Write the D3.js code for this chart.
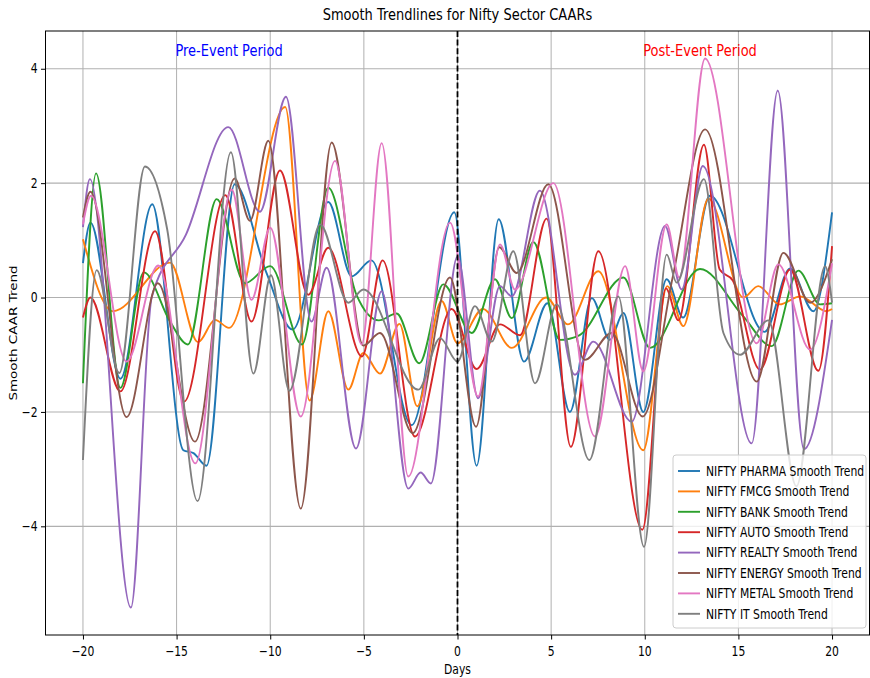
<!DOCTYPE html>
<html>
<head>
<meta charset="utf-8">
<script src="https://cdn.jsdelivr.net/npm/d3@7"></script>
<style>
  body { margin: 0; background: #fff; }
  svg text { font-family: "DejaVu Sans", sans-serif; }
</style>
</head>
<body>
<div id="chart"></div>
<script>
// sector names as shown in the legend
var sectors = ["NIFTY PHARMA", "NIFTY FMCG", "NIFTY BANK", "NIFTY AUTO",
               "NIFTY REALTY", "NIFTY ENERGY", "NIFTY METAL", "NIFTY IT"];
var colors = ["#1f77b4", "#ff7f0e", "#2ca02c", "#d62728",
              "#9467bd", "#8c564b", "#e377c2", "#7f7f7f"];

// [day, smooth CAAR] (turning points of each curve)
var pharma = [[-20,0.6],[-19.6,1.31],[-18,-1.42],[-16.3,1.63],[-14.64,-2.67],[-14.1,-2.72],[-13.4,-2.94],
  [-11.9,1.98],[-10.2,0.43],[-8.8,-0.56],[-6.9,1.67],[-5.65,0.37],[-4.6,0.65],[-2.45,-2.23],[-0.17,1.49],
  [1.02,-2.94],[2.2,1.37],[3.55,-1.12],[4.8,-0.1],[6,-2],[7.17,-0.01],[8.14,-0.74],[8.86,-0.27],[9.92,-2],
  [11.17,0.32],[12.05,-0.35],[13.48,1.78],[16.4,-0.6],[17.76,0.51],[19,-0.24],[20,1.49]];
var fmcg = [[-20,1.02],[-18.4,-0.24],[-15.35,0.61],[-13.85,-0.78],[-12.95,-0.39],[-12.2,-0.53],[-9.2,3.33],
  [-7.9,-1.8],[-6.9,-0.24],[-5.83,-1.61],[-5.03,-0.97],[-4.14,-1.33],[-3.1,-0.46],[-2.15,-1.9],[-0.85,-0.06],
  [0,-0.8],[1.36,-0.2],[2.9,-0.88],[4.73,0],[5.9,-0.47],[7.52,0.46],[9.92,-2.67],[11.2,0.2],[12.06,-0.5],
  [13.4,1.73],[15.26,0],[16.06,0.2],[17.2,-0.12],[18.3,0.02],[19.7,-0.24],[20,-0.2]];
var bank = [[-20,-1.5],[-19.3,2.17],[-18,-1.58],[-16.75,0.44],[-15.35,-0.42],[-14.4,-0.82],[-12.86,1.72],
  [-11.35,0.25],[-10,0.55],[-8.3,-0.82],[-6.9,1.92],[-5.4,0.05],[-4.2,-0.4],[-3.25,-0.28],[-2.04,-1.15],
  [-0.76,0.23],[0.76,-0.62],[2,0.32],[2.9,-0.36],[4.05,0.97],[5.47,-0.74],[6.5,-0.66],[8.86,0.35],
  [10.28,-0.88],[12.95,0.5],[15.26,-0.33],[16.78,-0.85],[18.2,0.47],[19.36,-0.12],[20,-0.1]];
var auto = [[-20,-0.35],[-19.6,0],[-18,-1.64],[-16.15,1.16],[-14.6,-1.82],[-12.4,1.79],[-11,-0.42],
  [-9.48,2.22],[-7.97,0.05],[-6.9,0.87],[-5.1,-1.03],[-4,0.65],[-2.27,-2.43],[-0.31,-0.2],[1.02,-1.25],
  [2.27,-0.47],[3.34,-0.66],[4.76,1.38],[6.05,-2.61],[7.52,0.81],[9.87,-4.06],[11.13,0.16],[11.8,-0.4],
  [13.16,2.67],[14,0.49],[14.7,0.3],[16.15,-1.26],[17.76,0.49],[19.27,-1.28],[20,0.9]];
var realty = [[-20,1.23],[-19.63,2.07],[-17.44,-5.42],[-16.33,0],[-14.5,1.1],[-12.24,2.98],[-10.55,1.5],
  [-9.16,3.51],[-7.8,-0.42],[-6.99,0.52],[-5.42,-2.64],[-4.05,0.11],[-2.63,-3.34],[-1.97,-3.06],[-1.42,-3.25],
  [0,0.72],[1.1,-1.76],[2.27,0.2],[2.9,0.02],[4.4,1.87],[6.27,-1.35],[7.25,-0.77],[9.3,-2.17],[11.08,1.25],
  [11.97,0.14],[13.1,2.3],[15.71,-2.55],[17.1,3.62],[18.5,-2.65],[20,-0.39]];
var energy = [[-20,1.4],[-19.6,1.85],[-17.67,-2.09],[-16,0.25],[-14.02,-2.52],[-11.9,2.08],[-11.08,1.34],
  [-10.1,2.74],[-8.37,-3.69],[-6.72,2.71],[-5.03,-0.84],[-4.14,-0.62],[-2.39,-2.37],[-0.4,0.35],[0.99,-2.26],
  [2.23,0.88],[3.16,0.43],[4.85,1.98],[6.8,-1.09],[8.23,-0.62],[9.89,-2.08],[11.5,0.37],[13.22,2.94],
  [15.98,-1.47],[17.4,0.78],[18.83,-0.09],[20,0.67]];
var metal = [[-20,1.28],[-19.57,1.78],[-17.67,-1.12],[-15.98,0.56],[-14,-2.9],[-12.06,1.89],[-11,-0.04],
  [-10,1.22],[-8.37,-2.08],[-6.54,2.39],[-5.12,-0.82],[-4.05,2.7],[-2.63,-3.13],[-0.4,1.31],[1.1,-1.73],
  [2.27,0.93],[3.07,0.14],[5.12,2],[7.34,-2.43],[8.95,0.55],[9.92,-1.29],[11.17,1.28],[11.84,0.35],
  [13.22,4.18],[15.98,-0.8],[17.13,0.58],[18.83,-0.91],[20,0.6]];
var it = [[-20,-2.84],[-19.27,0.48],[-18.06,-1.32],[-16.69,2.29],[-15.5,1.19],[-13.88,-3.56],[-12.1,2.54],
  [-10.9,-1.33],[-9.96,0.39],[-8.98,-1.63],[-7.34,1.28],[-5.83,-0.09],[-5.03,0.14],[-2.09,-1.61],[-0.93,-0.71],
  [0,-1.12],[0.93,-0.15],[1.83,-0.77],[2.98,0.81],[4.14,-1.5],[5.3,-0.12],[7.04,-2.84],[8.59,0.02],
  [9.96,-4.36],[11.17,0.75],[11.7,0.26],[13.16,2.07],[14.2,-0.62],[15.09,-1],[16.6,-0.4],[18.1,-3.3],
  [19.63,0.55],[20,-0.09]];

var xTicks = [-20, -15, -10, -5, 0, 5, 10, 15, 20];
var yTicks = [-4, -2, 0, 2, 4];

var series = [pharma, fmcg, bank, auto, realty, energy, metal, it];

// figure layout
var W = 870, H = 678;
var margin = {top: 31, right: 0.5, bottom: 43, left: 45.5};
var width = W - margin.left - margin.right,
    height = H - margin.top - margin.bottom;
var stretch = 1.25; // the picture is taller than it is wide, text too

var svg = d3.select("#chart").append("svg")
    .attr("width", W)
    .attr("height", H);

var g = svg.append("g")
    .attr("transform", "translate(" + margin.left + "," + margin.top + ")");

// put a text at (px,py) with the vertical stretch
function label(parent, px, py, str, size, anchor, extra) {
  return parent.append("text")
      .attr("transform", "translate(" + px + "," + py + ")" + (extra || "") + " scale(1," + stretch + ")")
      .attr("text-anchor", anchor || "middle")
      .attr("dy", "0.35em")
      .style("font-size", size + "px")
      .text(str);
}

// matplotlib style 5% padding around the data
var allY = [].concat.apply([], series.map(function(s) { return s.map(function(d) { return d[1]; }); }));
var yMin = d3.min(allY), yMax = d3.max(allY), pad = (yMax - yMin) * 0.05;

var x = d3.scaleLinear().domain([-22, 22]).range([0, width]);
var y = d3.scaleLinear().domain([yMin - pad, yMax + pad]).range([height, 0]);

// grid
g.append("g").selectAll("line").data(xTicks).enter().append("line")
    .attr("x1", function(d) { return x(d); }).attr("x2", function(d) { return x(d); })
    .attr("y1", 0).attr("y2", height)
    .attr("stroke", "#b0b0b0").attr("stroke-width", 1);
g.append("g").selectAll("line").data(yTicks).enter().append("line")
    .attr("y1", function(d) { return y(d); }).attr("y2", function(d) { return y(d); })
    .attr("x1", 0).attr("x2", width)
    .attr("stroke", "#b0b0b0").attr("stroke-width", 1.1);

// the curves
var line = d3.line()
    .x(function(d) { return x(d[0]); })
    .y(function(d) { return y(d[1]); })
    .curve(d3.curveMonotoneX);

g.append("g").selectAll("path").data(series).enter().append("path")
    .attr("d", line)
    .attr("fill", "none")
    .attr("stroke", function(d, i) { return colors[i]; })
    .attr("stroke-width", 1.9);

// event day
g.append("line")
    .attr("x1", x(0)).attr("x2", x(0))
    .attr("y1", 0).attr("y2", height)
    .attr("stroke", "#000").attr("stroke-width", 1.8)
    .attr("stroke-dasharray", "6,2.6");

// period labels
label(g, x(-12.2), y(4.33), "Pre-Event Period", 13).attr("fill", "blue");
label(g, x(12.95), y(4.33), "Post-Event Period", 13).attr("fill", "red");

// axes, ticks only (labels drawn stretched)
var xAxis = g.append("g")
    .attr("transform", "translate(0," + height + ")")
    .call(d3.axisBottom(x).tickValues(xTicks).tickSize(4.5).tickFormat(""));
var yAxis = g.append("g")
    .call(d3.axisLeft(y).tickValues(yTicks).tickSize(4.5).tickFormat(""));
[xAxis, yAxis].forEach(function(a) {
  a.select(".domain").remove();
  a.selectAll("line").attr("stroke", "#000").attr("stroke-width", 1);
});
var fmt = d3.format("d");
xTicks.forEach(function(t) { label(g, x(t), height + 16, fmt(t), 10.8); });
yTicks.forEach(function(t) { label(g, -8, y(t), fmt(t), 10.8, "end"); });

// frame
g.append("rect").attr("width", width).attr("height", height)
    .attr("fill", "none").attr("stroke", "#000").attr("stroke-width", 1);

// titles
label(svg, margin.left + width / 2, 14, "Smooth Trendlines for Nifty Sector CAARs", 13);
label(svg, margin.left + width / 2, 669, "Days", 10.8);
svg.append("text")
    .attr("transform", "translate(13," + (margin.top + height / 2) + ") rotate(-90) scale(" + stretch + ",1)")
    .attr("text-anchor", "middle").attr("dy", "0.35em").style("font-size", "10.8px")
    .text("Smooth CAAR Trend");

// legend
var legend = svg.append("g").attr("transform", "translate(673,455)");
legend.append("rect")
    .attr("width", 193).attr("height", 173).attr("rx", 3)
    .attr("fill", "#fff").attr("fill-opacity", 0.8)
    .attr("stroke", "#cccccc").attr("stroke-width", 1);
sectors.forEach(function(s, i) {
  var yy = 16 + i * 20.4;
  legend.append("line").attr("x1", 5).attr("x2", 27).attr("y1", yy).attr("y2", yy)
      .attr("stroke", colors[i]).attr("stroke-width", 1.9);
  label(legend, 33, yy, s + " Smooth Trend", 10.8, "start");
});
</script>
</body>
</html>
